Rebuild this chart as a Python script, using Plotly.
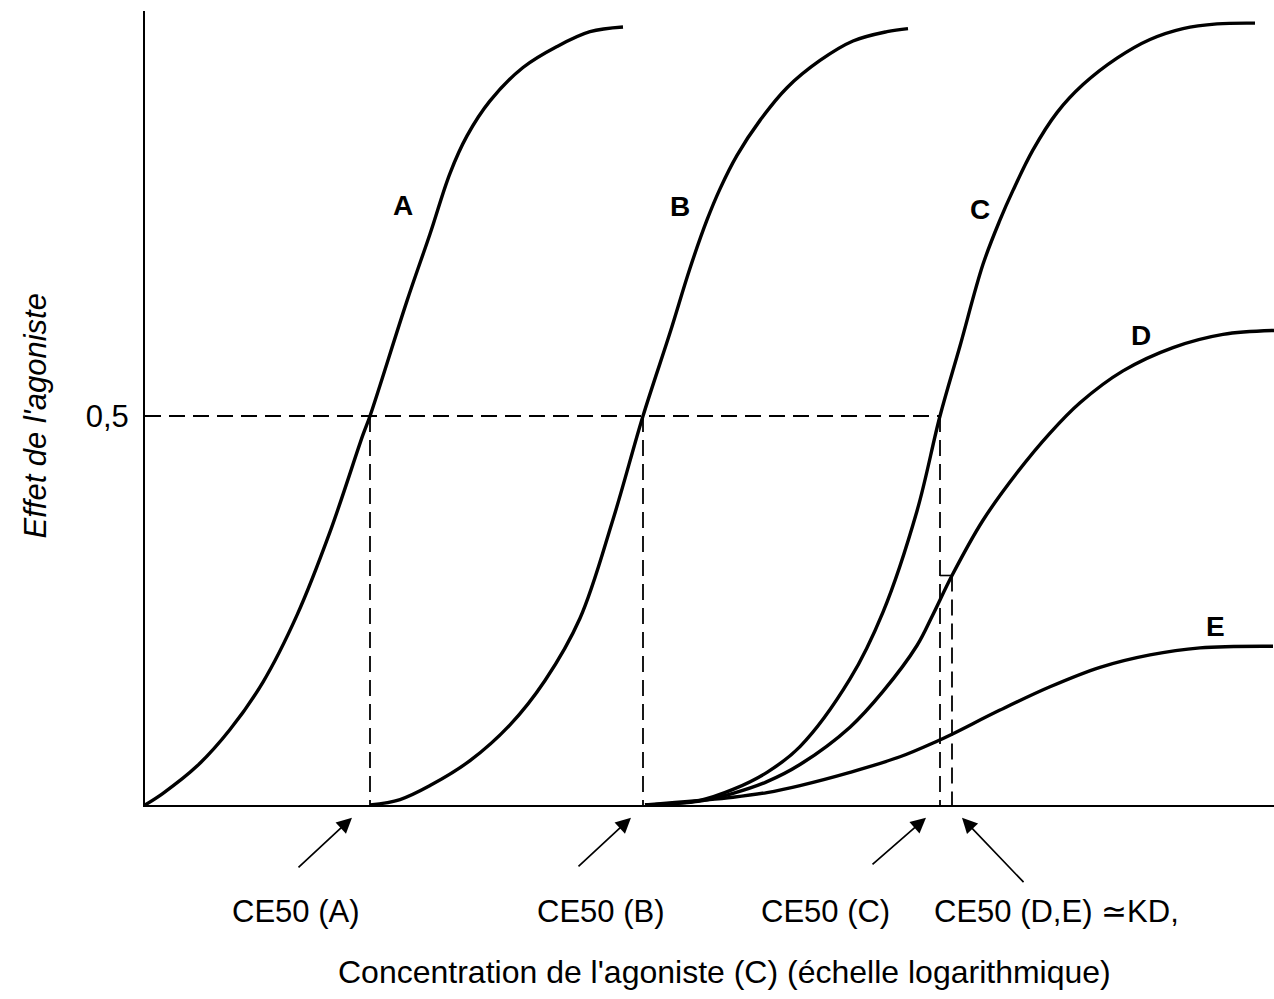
import plotly.graph_objects as go

# Log-concentration of agonist (arbitrary log units) and fractional effect
log_conc_a = [0.00, 0.18, 0.52, 0.85, 1.18, 1.52, 1.85, 2.18, 2.25, 2.62, 2.85, 3.05, 3.22, 3.45, 3.78, 4.12, 4.45, 4.78]
effect_a = [0.000, 0.015, 0.050, 0.097, 0.158, 0.244, 0.351, 0.476, 0.500, 0.648, 0.734, 0.812, 0.860, 0.905, 0.948, 0.975, 0.994, 1.000]

log_conc_b = [2.25, 2.55, 2.85, 3.25, 3.65, 4.00, 4.35, 4.68, 4.98, 5.25, 5.45, 5.62, 5.75, 5.92, 6.15, 6.42, 6.75, 7.08, 7.42, 7.63]
effect_b = [0.000, 0.007, 0.025, 0.057, 0.103, 0.160, 0.240, 0.367, 0.500, 0.607, 0.690, 0.752, 0.792, 0.835, 0.880, 0.922, 0.957, 0.982, 0.994, 0.998]

log_conc_c = [5.00, 5.55, 5.88, 6.22, 6.55, 7.05, 7.38, 7.72, 7.95, 8.15, 8.38, 8.55, 8.68, 8.88, 9.12, 9.38, 9.72, 10.05, 10.38, 10.72, 11.10]
effect_c = [0.000, 0.006, 0.020, 0.042, 0.075, 0.162, 0.248, 0.378, 0.500, 0.590, 0.695, 0.752, 0.790, 0.842, 0.890, 0.926, 0.960, 0.984, 0.998, 1.004, 1.005]

log_conc_d = [5.00, 5.55, 5.88, 6.22, 6.55, 7.05, 7.38, 7.72, 7.88, 8.07, 8.38, 8.72, 9.05, 9.35, 9.78, 10.28, 10.78, 11.29]
effect_d = [0.000, 0.005, 0.015, 0.030, 0.052, 0.100, 0.146, 0.205, 0.245, 0.295, 0.366, 0.427, 0.478, 0.517, 0.558, 0.588, 0.605, 0.610]

log_conc_e = [5.00, 5.88, 6.22, 6.55, 7.05, 7.55, 7.92, 8.07, 8.55, 9.05, 9.55, 10.05, 10.55, 11.28]
effect_e = [0.000, 0.010, 0.016, 0.025, 0.042, 0.062, 0.082, 0.091, 0.122, 0.152, 0.177, 0.193, 0.202, 0.204]

# Half-maximal concentrations
ce50_names = ["CE50 (A)", "CE50 (B)", "CE50 (C)", "CE50 (D,E) \u2243KD,"]
ce50_x = [2.25, 4.98, 7.95, 8.07]
half_effect = 0.5
effect_d_at_kd = 0.295

curve_names = ["A", "B", "C", "D", "E"]

FONT = "Liberation Sans, Arial, Helvetica, sans-serif"
INK = "#000000"

fig = go.Figure()

# Dose-response curves
for xs, ys in [(log_conc_a, effect_a), (log_conc_b, effect_b), (log_conc_c, effect_c),
               (log_conc_d, effect_d), (log_conc_e, effect_e)]:
    fig.add_trace(go.Scatter(
        x=xs, y=ys, mode="lines",
        line=dict(color=INK, width=3.4, shape="spline", smoothing=1.0),
        cliponaxis=False, hoverinfo="skip", showlegend=False))

dash_style = dict(color=INK, width=1.8, dash="16px,8px")

# Horizontal reference at half effect, from the y axis to CE50 (C)
fig.add_trace(go.Scatter(x=[0, ce50_x[2]], y=[half_effect, half_effect], mode="lines",
                         line=dash_style, hoverinfo="skip", showlegend=False))

# Vertical drop lines at each CE50
for cx in ce50_x[:3]:
    fig.add_trace(go.Scatter(x=[cx, cx], y=[half_effect, 0], mode="lines",
                             line=dash_style, hoverinfo="skip", showlegend=False))
fig.add_trace(go.Scatter(x=[ce50_x[3], ce50_x[3]], y=[effect_d_at_kd, 0], mode="lines",
                         line=dash_style, hoverinfo="skip", showlegend=False))
# small bracket joining the two neighbouring drop lines on curve D
fig.add_trace(go.Scatter(x=[ce50_x[2], ce50_x[3]], y=[effect_d_at_kd, effect_d_at_kd], mode="lines",
                         line=dict(color=INK, width=1.6), hoverinfo="skip", showlegend=False))

annotations = []

# Curve letters
letter_pos = [(2.58, 0.771), (5.35, 0.769), (8.35, 0.765), (9.96, 0.604), (10.70, 0.229)]
for name, (lx, ly) in zip(curve_names, letter_pos):
    annotations.append(dict(x=lx, y=ly, xref="x", yref="y", text=f"<b>{name}</b>",
                            showarrow=False, font=dict(family=FONT, size=28, color=INK)))

# CE50 captions under the axis
caption_x = [1.50, 4.55, 6.80, 9.11]
for name, tx in zip(ce50_names, caption_x):
    annotations.append(dict(x=tx, y=-0.134, xref="x", yref="paper", yanchor="middle",
                            text=name, showarrow=False,
                            font=dict(family=FONT, size=31, color=INK)))

# Arrows pointing at the CE50 positions
tip_offset = [-0.18, -0.12, -0.14, 0.10]
tail_dx = [-55, -54, -55, 63]
tail_dy = [51, 50, 48, 66]
for cx, off, dx, dy in zip(ce50_x, tip_offset, tail_dx, tail_dy):
    annotations.append(dict(x=cx + off, y=-0.016, xref="x", yref="paper", text="",
                            showarrow=True, arrowhead=2, arrowsize=1.8, arrowwidth=1.7,
                            arrowcolor=INK, ax=dx, ay=dy, standoff=0))

# Axis titles
annotations.append(dict(x=0.513, y=-0.210, xref="paper", yref="paper",
                        xanchor="center", yanchor="middle",
                        text="Concentration de l'agoniste (C) (\u00e9chelle logarithmique)",
                        showarrow=False, font=dict(family=FONT, size=32, color=INK)))
annotations.append(dict(x=-0.097, y=0.5, xref="paper", yref="y",
                        xanchor="center", yanchor="middle",
                        text="<i>Effet de l'agoniste</i>", textangle=-90,
                        showarrow=False, font=dict(family=FONT, size=31, color=INK)))

fig.update_layout(
    width=1274, height=999,
    margin=dict(l=145, r=0, t=11, b=194),
    paper_bgcolor="white", plot_bgcolor="white",
    showlegend=False,
    annotations=annotations,
    xaxis=dict(range=[0, 11.29], showline=True, linecolor=INK, linewidth=2,
               showgrid=False, zeroline=False, showticklabels=False, ticks=""),
    yaxis=dict(range=[0, 1.0206], showline=True, linecolor=INK, linewidth=2,
               showgrid=False, zeroline=False, tickvals=[half_effect], ticktext=["0,5"],
               ticks="", ticklabelstandoff=8,
               tickfont=dict(family=FONT, size=31, color=INK)),
)

fig.write_html("out.html")
